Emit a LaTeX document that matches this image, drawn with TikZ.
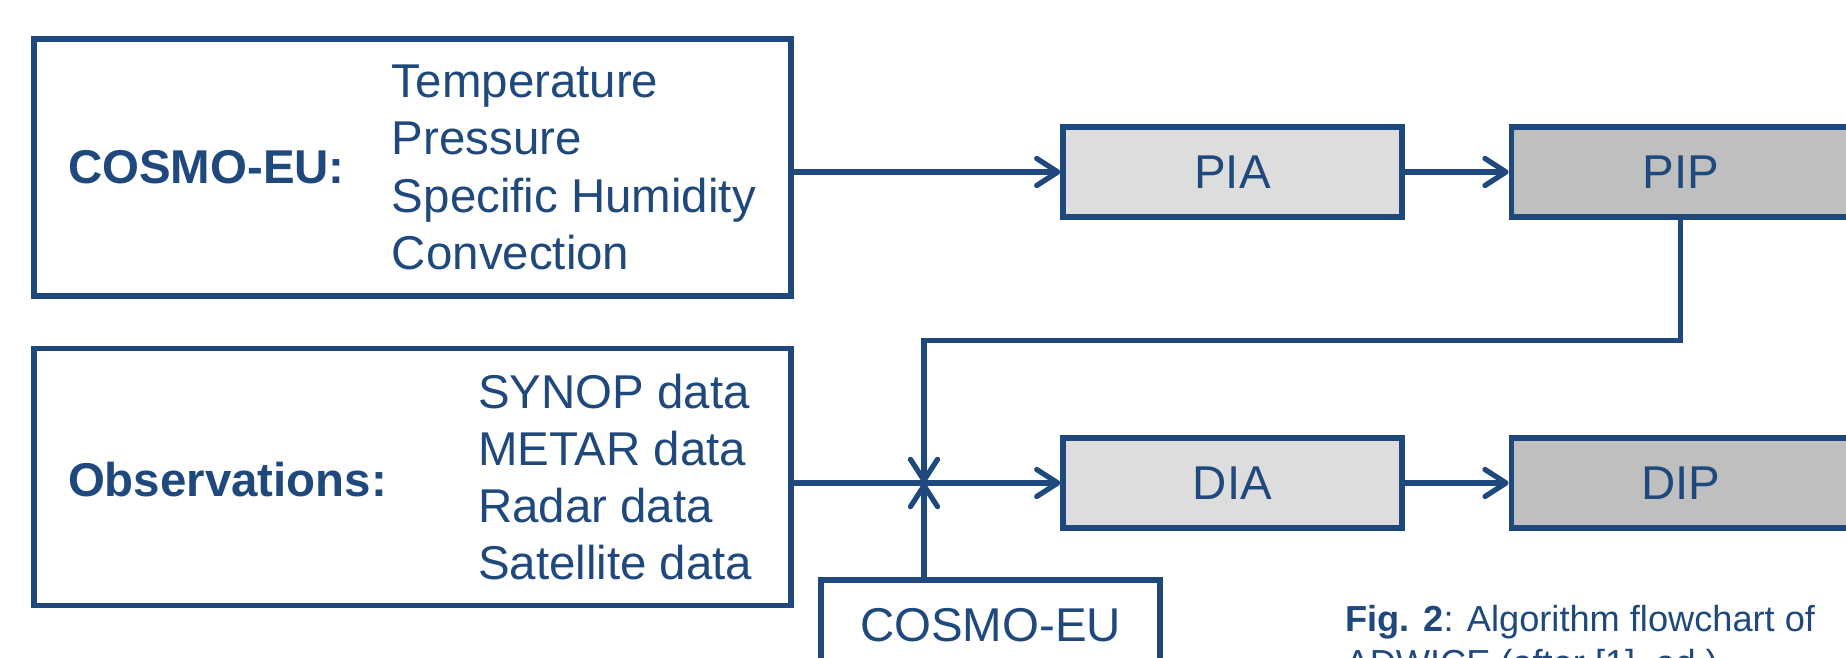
\documentclass[tikz,border=0pt]{standalone}
\usepackage{fontspec}
\setmainfont{Liberation Sans}
\usetikzlibrary{positioning,arrows.meta}

\definecolor{adblue}{RGB}{31,73,125}
\definecolor{lightgrey}{RGB}{221,221,221}
\definecolor{midgrey}{RGB}{191,191,191}
\newcommand{\bodysize}{\fontsize{13.5}{16.3}\selectfont}

\tikzset{
  srcbox/.style={draw, rectangle, minimum width=7.57cm, minimum height=2.57cm, inner sep=0pt},
  procbox/.style={draw, rectangle, fill=lightgrey, minimum width=3.39cm, minimum height=0.9cm, inner sep=0pt},
  outbox/.style={procbox, fill=midgrey},
  lbl/.style={inner sep=0pt, anchor=west, align=left},
  flow/.style={-{Straight Barb[length=2.1mm,width=2.7mm,round]}}
}

\begin{document}
\begin{tikzpicture}[line width=1.5pt, color=adblue, font=\bodysize]
\useasboundingbox (0,0) rectangle (18.46,6.58);

% model and observation inputs
\node[srcbox] (cosmo) at (4.125,4.905) {};
\node[lbl, font=\bodysize\bfseries] (cosmolbl) at ([xshift=3.4mm]cosmo.west) {COSMO-EU:};
\node[lbl] (cosmovars) at ([xshift=35.8mm]cosmo.west) {Temperature\\Pressure\\Specific Humidity\\Convection};

\node[srcbox] (obs) at (4.125,1.81) {};
\node[lbl, font=\bodysize\bfseries] (obslbl) at ([xshift=3.4mm,yshift=-0.3mm]obs.west) {Observations:};
\node[lbl] (obsdata) at ([xshift=44.4mm]obs.west) {SYNOP data\\METAR data\\Radar data\\Satellite data};

% algorithm stages
\node[procbox] (pia) at (12.325,4.86) {PIA};
\node[outbox, right=1.04cm of pia] (pip) {PIP};
\node[procbox] (dia) at (12.325,1.75) {DIA};
\node[outbox, right=1.04cm of dia] (dip) {DIP};
\node[procbox, fill=white] (cosmolow) at (9.905,0.33) {COSMO-EU};

\coordinate (jn) at (9.24,1.75);

\draw[flow] (cosmo.east |- pia.west) -- (pia.west);
\draw[flow] (pia) -- (pip);
\draw[flow] (obs.east |- dia.west) -- (dia.west);
\draw[flow] (dia) -- (dip);
\draw[flow] (pip.south) -- ++(0,-1.21) -| (jn);
\draw[flow] (cosmolow.north -| jn) -- (jn);

\node[anchor=north west, inner sep=0pt, align=left, font=\fontsize{10.3}{12.5}\selectfont] (caption) at (13.43,0.553)
  {\textbf{Fig. 2}: Algorithm flowchart of\\ADWICE (after [1], ed.)};

\end{tikzpicture}
\end{document}
